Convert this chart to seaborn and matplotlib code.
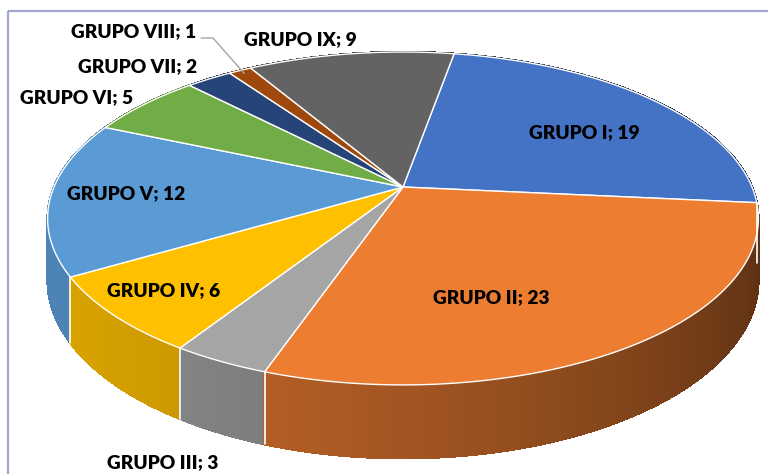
import numpy as np
import matplotlib
matplotlib.use("Agg")
import matplotlib.pyplot as plt
import seaborn as sns
from matplotlib.patches import Polygon
from matplotlib.collections import PolyCollection

sns.set_theme(style="white")
plt.rcParams["font.family"] = ["Lato", "DejaVu Sans"]

# data
grupos = ["GRUPO I", "GRUPO II", "GRUPO III", "GRUPO IV", "GRUPO V",
          "GRUPO VI", "GRUPO VII", "GRUPO VIII", "GRUPO IX"]
valores = [19, 23, 3, 6, 12, 5, 2, 1, 9]
colores = sns.color_palette(["#4472C4", "#ED7D31", "#A5A5A5", "#FFC000", "#5B9BD5",
                             "#70AD47", "#264478", "#9E480E", "#636363"])

# label positions (pixels), layout only
label_xy = [(584, 133), (491, 298), (163, 463), (164, 291), (126, 194),
            (77, 98), (138, 67), (134, 32), (300, 40)]

# 3d pie geometry (pixels)
cx, cy = 403, 187
A, B, D, k = 349, 160.5, 59.5, 0.189
start = 10.0  # degrees clockwise from top


def proj(a, z=0.0, r=1.0):
    a = np.radians(a)
    x, y = r * np.sin(a), r * np.cos(a)
    w = 1 + k * y
    return cx + A * x / w, cy + (-B * y + D * z) / w


def shade(a):
    phi = np.radians(90 - a)
    return 0.6 + 0.25 * np.cos(phi - np.radians(200))


total = sum(valores)
edges = start + 360 * np.concatenate([[0], np.cumsum(valores)]) / total

fig = plt.figure(figsize=(7.68, 4.74), dpi=100)
ax = fig.add_axes([0, 0, 1, 1])
ax.set_xlim(0, 768)
ax.set_ylim(474, 0)
ax.axis("off")

# side of the pie
quads, qcols, keys = [], [], []
step = 0.5
for i, v in enumerate(valores):
    a0, a1 = edges[i], edges[i + 1]
    angs = np.append(np.arange(a0, a1, step), a1)
    for s, e in zip(angs[:-1], angs[1:]):
        m = (s + e) / 2
        quads.append([proj(s), proj(e), proj(e, 1), proj(s, 1)])
        f = shade(m)
        c = np.clip(np.array(colores[i]) * f, 0, 1)
        qcols.append(c)
        keys.append(np.cos(np.radians(m)))
order = np.argsort(keys)[::-1]
pc = PolyCollection([quads[j] for j in order], facecolors=[qcols[j] for j in order],
                    edgecolors=[qcols[j] for j in order], linewidths=1.0,
                    antialiased=False)
ax.add_collection(pc)

for a in edges[:-1]:
    if np.cos(np.radians(a)) < 0:
        p0, p1 = proj(a), proj(a, 1)
        ax.plot([p0[0], p1[0]], [p0[1], p1[1]], color="white", lw=1.2)

# top of the pie
for i, v in enumerate(valores):
    angs = np.linspace(edges[i], edges[i + 1], 120)
    pts = [proj(0, r=0)] + [proj(a) for a in angs]
    ax.add_patch(Polygon(pts, closed=True, facecolor=colores[i],
                         edgecolor="white", lw=1.0))

# labels
for i, (g, v) in enumerate(zip(grupos, valores)):
    x, y = label_xy[i]
    ax.text(x, y, f"{g}; {v}", ha="center", va="center", fontsize=13.8,
            fontweight="heavy", color="black")

# leader line for GRUPO VIII
mid8 = (edges[7] + edges[8]) / 2
ex, ey = proj(mid8, r=0.97)
ax.plot([201, 213, ex], [38, 38, ey], color="#a6a6a6", lw=1)

# chart border
ax.plot([8, 8], [474, 11], color="#a3a6d2", lw=1.6, solid_capstyle="butt")
ax.plot([8, 768], [11, 11], color="#a3a6d2", lw=1.6, solid_capstyle="butt")

fig.savefig("out.png", dpi=100)
